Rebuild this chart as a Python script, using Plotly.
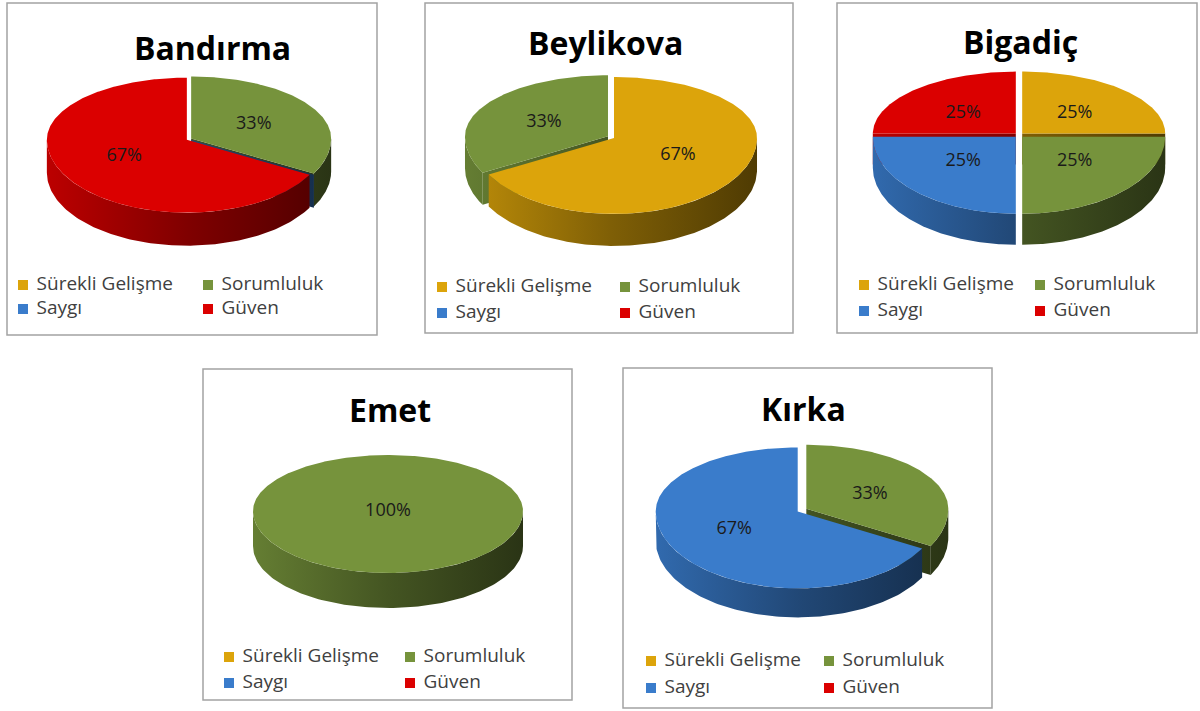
import numpy as np
import plotly.graph_objects as go

# ---------------- data ----------------
categories = ["Sürekli Gelişme", "Sorumluluk", "Saygı", "Güven"]
sites = ["Bandırma", "Beylikova", "Bigadiç", "Emet", "Kırka"]
# share (%) of each category, order as in `categories`
bandirma = [0, 33, 0, 67]
beylikova = [67, 33, 0, 0]
bigadic = [25, 25, 25, 25]
emet = [0, 100, 0, 0]
kirka = [0, 33, 67, 0]
site_values = [bandirma, beylikova, bigadic, emet, kirka]

# ---------------- style / layout ----------------
colors = ["#DCA40B", "#76933C", "#3A7CCB", "#DB0000"]
FONT = "Open Sans"

# box (x0,y0,x1,y1), title centre, pie (cx, cy, rx, ry_back, ry_front, depth, explode),
# legend (col1 x, col2 x, row1 y, row2 y)   -- all in pixels
panels = [
    dict(box=(7, 3, 377, 335), title=(212, 47), pie=(189, 139, 140, 62, 73, 33, 2.5),
         legend=(23, 208, 285, 309)),
    dict(box=(425, 3, 793, 333), title=(605, 42), pie=(611, 137, 143, 61, 76, 32, 3.5),
         legend=(442, 625, 287, 313)),
    dict(box=(837, 3, 1197, 333), title=(1020, 41), pie=(1019, 135, 143, 62, 77, 31, 4.5),
         legend=(864, 1040, 285, 311)),
    dict(box=(203, 369, 572, 700), title=(390, 409), pie=(388, 511, 135, 56, 62, 35, 0),
         legend=(229, 410, 657, 683)),
    dict(box=(623, 368, 992, 708), title=(803, 408), pie=(802, 510, 142, 64, 77, 29, 5),
         legend=(651, 829, 661, 688)),
]


def shade(hexcol, f):
    h = hexcol.lstrip("#")
    r, g, b = (int(h[i:i + 2], 16) for i in (0, 2, 4))
    return "rgb(%d,%d,%d)" % (r * f, g * f, b * f)


def ell(th, cx, cy, rx, ryb, ryf):
    t = np.radians(np.asarray(th, dtype=float))
    c = np.cos(t)
    x = cx + rx * np.sin(t)
    y = cy - np.where(c >= 0, ryb, ryf) * c
    return x, y


fig = go.Figure()
shapes = []
annotations = []

for site, vals, P in zip(sites, site_values, panels):
    cx, cy, rx, ryb, ryf, depth, ex = P["pie"]
    total = float(sum(vals))
    cum = np.concatenate([[0], np.cumsum(vals)]) / total * 360.0
    g0, g1 = cx - rx - ex, cx + rx + ex

    slices = []
    for i, v in enumerate(vals):
        a, b = cum[i], cum[i + 1]
        m = (a + b) / 2.0
        cm = np.cos(np.radians(m))
        full = (b - a) >= 359.999
        e = 0 if full else ex
        ox = e * np.sin(np.radians(m))
        oy = -e * cm * ((ryb if cm >= 0 else ryf) / rx)
        slices.append(dict(i=i, a=a, b=b, m=m, key=cm, ox=ox, oy=oy, full=full))
    order = sorted(slices, key=lambda s: -s["key"])

    for s in order:
        i, a, b, ox, oy = s["i"], s["a"], s["b"], s["ox"], s["oy"]
        col = colors[i]
        grad = dict(type="horizontal", start=g0, stop=g1,
                    colorscale=[[0, shade(col, 0.86)], [0.5, shade(col, 0.58)],
                                [1, shade(col, 0.36)]])
        # curved outer wall (front half only)
        lo, hi = max(a, 90), min(b, 270)
        if hi > lo:
            th = np.linspace(lo, hi, 120)
            x, y = ell(th, cx, cy, rx, ryb, ryf)
            x = x + ox
            y = y + oy
            px = np.concatenate([x, x[::-1], x[:1]])
            py = np.concatenate([y, y[::-1] + depth, y[:1]])
            fig.add_trace(go.Scatter(x=px, y=py, mode="lines", fill="toself",
                                     fillgradient=grad, line=dict(width=0),
                                     hoverinfo="skip", showlegend=False))
        # radial cut faces
        if not s["full"]:
            faces = []
            if np.sin(np.radians(a)) < -1e-6:
                faces.append(a)
            if np.sin(np.radians(b)) > 1e-6 and not (b == a and faces):
                faces.append(b)
            for phi in faces:
                rxp, ryp = ell([phi], cx, cy, rx, ryb, ryf)
                ccx, ccy = cx + ox, cy + oy
                px = [ccx, rxp[0] + ox, rxp[0] + ox, ccx, ccx]
                py = [ccy, ryp[0] + oy, ryp[0] + oy + depth, ccy + depth, ccy]
                fig.add_trace(go.Scatter(x=px, y=py, mode="lines", fill="toself",
                                         fillgradient=grad, line=dict(width=0),
                                         hoverinfo="skip", showlegend=False))
        # top face
        if b > a:
            th = np.linspace(a, b, max(int((b - a) * 1.5), 8))
            x, y = ell(th, cx, cy, rx, ryb, ryf)
            px = np.concatenate([[cx], x, [cx]]) + ox
            py = np.concatenate([[cy], y, [cy]]) + oy
            fig.add_trace(go.Scatter(x=px, y=py, mode="lines", fill="toself",
                                     fillcolor=col, line=dict(width=0),
                                     hovertext=f"{site} – {categories[i]}: {vals[i]}%",
                                     hoverinfo="text", showlegend=False))

    # data labels
    lx, ly, lt = [], [], []
    for s in slices:
        v = vals[s["i"]]
        if v <= 0:
            continue
        if s["full"]:
            x0, y0 = cx, cy
        else:
            x1, y1 = ell([s["m"]], cx, cy, rx, ryb, ryf)
            x0 = cx + 0.52 * (x1[0] - cx) + s["ox"]
            y0 = cy + 0.45 * (y1[0] - cy) + s["oy"]
        lx.append(x0)
        ly.append(y0)
        lt.append(f"{round(v / total * 100)}%")
    fig.add_trace(go.Scatter(x=lx, y=ly, mode="text", text=lt,
                             textfont=dict(family=FONT, size=18, color="#1a1a1a"),
                             hoverinfo="skip", showlegend=False))

    # legend (2 x 2)
    c1, c2, r1, r2 = P["legend"]
    fig.add_trace(go.Scatter(
        x=[c1, c2, c1, c2], y=[r1, r1, r2, r2], mode="markers+text",
        marker=dict(symbol="square", size=10, color=colors, line=dict(width=0)),
        text=["\u2009\u2009" + c for c in categories], textposition="middle right",
        textfont=dict(family=FONT, size=19, color="#404040"),
        hoverinfo="skip", showlegend=False))

    # title
    tx, ty = P["title"]
    annotations.append(dict(x=tx, y=ty, xref="x", yref="y", text=f"<b>{site}</b>",
                            showarrow=False, xanchor="center", yanchor="middle",
                            font=dict(family=FONT, size=32, color="#000000")))
    x0b, y0b, x1b, y1b = P["box"]
    shapes.append(dict(type="rect", xref="x", yref="y", x0=x0b, y0=y0b, x1=x1b, y1=y1b,
                       line=dict(color="#A3A3A3", width=1.5), fillcolor="rgba(0,0,0,0)",
                       layer="below"))

fig.update_layout(
    width=1200, height=711, autosize=False,
    margin=dict(l=0, r=0, t=0, b=0),
    paper_bgcolor="white", plot_bgcolor="white",
    xaxis=dict(range=[0, 1200], visible=False, fixedrange=True),
    yaxis=dict(range=[711, 0], visible=False, fixedrange=True),
    shapes=shapes, annotations=annotations,
    showlegend=False,
)

fig.write_html("out.html",
               config={"displayModeBar": False},
               post_script="document.body.style.margin='0px';"
                           "document.body.style.overflow='hidden';")
